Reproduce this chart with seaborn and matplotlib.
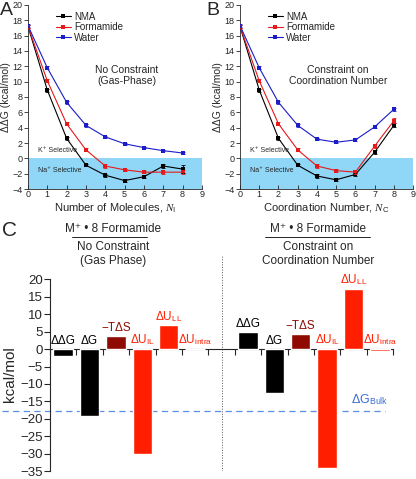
import numpy as np
import pandas as pd
import matplotlib
matplotlib.use("Agg")
import matplotlib.pyplot as plt
import seaborn as sns
from matplotlib.lines import Line2D

sns.set_theme(style="ticks")
plt.rcParams['font.family'] = ['Liberation Sans', 'DejaVu Sans']
plt.rcParams['mathtext.fontset'] = 'custom'
plt.rcParams['mathtext.rm'] = 'Liberation Sans'
plt.rcParams['mathtext.it'] = 'Liberation Serif:italic'

# Dados dos paineis A e B (numero de moleculas / coordenacao)
n = [0, 1, 2, 3, 4, 5, 6, 7, 8]
ligantes = ['NMA', 'Formamide', 'Water']

nma_a = [17.2, 8.9, 2.6, -0.9, -2.2, -2.9, -2.4, -1.0, -1.4]
form_a = [17.2, 10.1, 4.5, 1.1, -1.0, -1.5, -1.8, -1.8, -1.8]
agua_a = [17.3, 11.8, 7.3, 4.3, 2.8, 1.9, 1.4, 1.0, 0.7]
err_nma_a = [0.2, 0.2, 0.2, 0.15, 0.2, 0.2, 0.2, 0.3, 0.5]
err_form_a = [0.2, 0.2, 0.2, 0.2, 0.2, 0.15, 0.15, 0.2, 0.25]
err_agua_a = [0.2, 0.2, 0.2, 0.15, 0.15, 0.1, 0.1, 0.1, 0.15]

nma_b = [17.2, 8.9, 2.6, -0.9, -2.3, -2.8, -2.1, 0.8, 4.3]
form_b = [17.2, 10.1, 4.5, 1.1, -1.0, -1.6, -1.8, 1.6, 4.9]
agua_b = [17.3, 11.8, 7.3, 4.3, 2.5, 2.1, 2.4, 4.1, 6.4]
err_nma_b = [0.2, 0.2, 0.2, 0.15, 0.2, 0.2, 0.25, 0.25, 0.25]
err_form_b = [0.2, 0.2, 0.2, 0.2, 0.2, 0.15, 0.2, 0.3, 0.3]
err_agua_b = [0.2, 0.2, 0.2, 0.15, 0.15, 0.15, 0.15, 0.2, 0.2]

# Dados do painel C
termos = ['ΔΔG', 'ΔG', '−TΔS', r'ΔU$_\mathrm{IL}$', r'ΔU$_\mathrm{LL}$', r'ΔU$_\mathrm{intra}$']
valores_sem = [-2.0, -19.3, 3.9, -30.0, 6.8, -0.1]
valores_com = [4.9, -12.6, 4.4, -34.0, 17.3, -0.6]
dg_bulk = -17.7

cores = {'NMA': 'black', 'Formamide': '#e41a1c', 'Water': '#1c1cc8'}
cores_termos = ['black', 'black', '#8f0a00', '#ff1e00', '#ff1e00', '#ff1e00']

fig = plt.figure(figsize=(4.16, 4.79), dpi=100)
ax_a = fig.add_axes([0.0673, 0.6054, 0.418, 0.3842])
ax_b = fig.add_axes([0.577, 0.6054, 0.416, 0.3842])
ax_c = fig.add_axes([0.120, 0.0165, 0.825, 0.4511])


def painel_linhas(ax, serie, erros, xlabel, texto, letra, x_letra):
    df = pd.DataFrame({
        'N': n * 3,
        'ddG': serie[0] + serie[1] + serie[2],
        'Ligante': sum([[l] * len(n) for l in ligantes], []),
    })
    ax.axhspan(-4, 0, xmin=0, xmax=1, color='#8fd6f7', lw=0, zorder=0)
    sns.lineplot(data=df, x='N', y='ddG', hue='Ligante', palette=cores,
                 marker='s', markersize=3, markeredgewidth=0, linewidth=0.8,
                 ax=ax, zorder=3)
    for vals, err, lig in zip(serie, erros, ligantes):
        ax.errorbar(n, vals, yerr=err, fmt='none', ecolor=cores[lig],
                    elinewidth=0.6, capsize=1.5, capthick=0.6, zorder=3)
    ax.set_xlim(0, 9)
    ax.set_ylim(-4, 20)
    ax.set_xticks(range(10))
    ax.set_yticks(range(-4, 21, 2))
    ax.tick_params(axis='x', direction='in', length=3, width=0.6, labelsize=6.5, pad=1)
    ax.tick_params(axis='y', direction='out', length=3, width=0.6, labelsize=6.5, pad=1)
    for s in ['top', 'right']:
        ax.spines[s].set_visible(False)
    for s in ['left', 'bottom']:
        ax.spines[s].set_linewidth(0.6)
    ax.set_xlabel(xlabel, fontsize=8, labelpad=1)
    ax.set_ylabel('ΔΔG (kcal/mol)', fontsize=7.5, labelpad=1)
    ax.text(0.5, 1.0, 'K⁺ Selective', fontsize=5, va='center')
    ax.text(0.5, -1.6, 'Na⁺ Selective', fontsize=5, va='center')
    ax.text(5.1, 10.8, texto, fontsize=7.5, ha='center', va='center', linespacing=1.2)
    h, l = ax.get_legend_handles_labels()
    ax.legend(h, l, loc='upper left', bbox_to_anchor=(0.12, 1.0), frameon=False,
              fontsize=7, handlelength=1.6, handletextpad=0.3, labelspacing=0.05,
              borderpad=0.2)
    fig.text(x_letra, 1 - 2 / 479, letra, fontsize=14, ha='left', va='top')


painel_linhas(ax_a, [nma_a, form_a, agua_a], [err_nma_a, err_form_a, err_agua_a],
              r'Number of Molecules, $\mathit{N}_\mathrm{I}$',
              'No Constraint\n(Gas-Phase)', 'A', 0.0)
painel_linhas(ax_b, [nma_b, form_b, agua_b], [err_nma_b, err_form_b, err_agua_b],
              r'Coordination Number, $\mathit{N}_\mathrm{C}$',
              'Constraint on\nCoordination Number', 'B', 206 / 416)

# Painel C - barras de decomposicao
pos = list(range(len(termos))) + [p + len(termos) + 1 for p in range(len(termos))]
df_c = pd.DataFrame({
    'pos': pos,
    'valor': valores_sem + valores_com,
    'termo': termos + termos,
})
paleta = dict(zip(termos, cores_termos))
sns.barplot(data=df_c, x='pos', y='valor', hue='termo', palette=paleta,
            native_scale=True, dodge=False, width=0.73, legend=False,
            saturation=1, ax=ax_c, zorder=3)

for p, v, t in zip(df_c['pos'], df_c['valor'], df_c['termo']):
    cor = 'black' if t in ('ΔΔG', 'ΔG') else paleta[t]
    ax_c.text(p, max(v, 0) + 0.5, t, ha='center', va='bottom', fontsize=8.5, color=cor)

ax_c.set_xlim(-0.45, 12.5)
ax_c.set_ylim(-35, 27)
ax_c.set_yticks(range(-35, 21, 5))
ax_c.set_xticks(np.arange(-0.5, 13, 1))
ax_c.set_xticklabels([])
ax_c.spines['bottom'].set_position(('data', 0))
ax_c.spines['left'].set_bounds(-35, 20)
for s in ['top', 'right']:
    ax_c.spines[s].set_visible(False)
for s in ['left', 'bottom']:
    ax_c.spines[s].set_linewidth(0.8)
ax_c.tick_params(axis='x', direction='out', length=4, width=0.8)
ax_c.tick_params(axis='y', direction='out', length=4, width=0.8, labelsize=9.5, pad=1)
ax_c.set_xlabel('')
ax_c.set_ylabel('kcal/mol', fontsize=11, labelpad=1)
ax_c.yaxis.set_label_coords(-0.095, 0.45)

ax_c.plot([-2.3, 12.2], [dg_bulk, dg_bulk], ls=(0, (5, 3.5)), lw=0.9,
          color='#5b8fe6', clip_on=False, zorder=2)
ax_c.text(11.6, dg_bulk + 1.0, r'ΔG$_\mathrm{Bulk}$', ha='center', va='bottom',
          fontsize=9, color='#3a6fd8')
ax_c.plot([6, 6], [-35, 27], ls=':', lw=0.7, color='#555555', zorder=1)

# Cabecalhos do painel C
for xc, txt, x0, x1 in [(0.272, 'No Constraint\n(Gas Phase)', 0.173, 0.353),
                        (0.764, 'Constraint on\nCoordination Number', 0.637, 0.889)]:
    fig.text(xc, 1 - 229 / 479, 'M⁺ • 8 Formamide', ha='center', va='center', fontsize=8.5)
    fig.add_artist(Line2D([x0, x1], [1 - 237 / 479] * 2, color='black', lw=0.6))
    fig.text(xc, 1 - 254 / 479, txt, ha='center', va='center', fontsize=8.5,
             linespacing=1.15)
fig.text(0.005, 1 - 231 / 479, 'C', ha='left', va='center', fontsize=15)

fig.savefig('out.png', dpi=100)
